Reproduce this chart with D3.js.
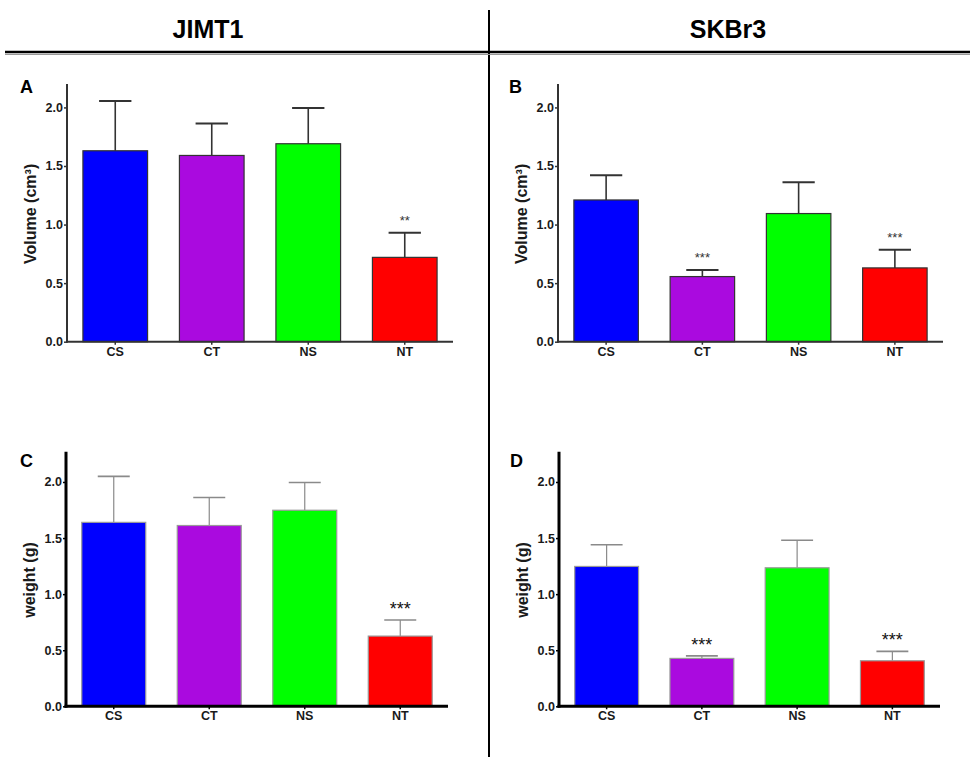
<!DOCTYPE html>
<html>
<head>
  <meta charset="utf-8">
  <title>JIMT1 / SKBr3</title>
  <script src="https://cdn.jsdelivr.net/npm/d3@7"></script>
  <style>
    body { margin: 0; background: #fff; }
    text { font-family: "Liberation Sans", Arial, sans-serif; }
  </style>
</head>
<body>
<div id="chart"></div>
<script>
var groups = ["CS", "CT", "NS", "NT"];
var colors = ["#0000ff", "#aa0adf", "#00ff00", "#ff0000"];
var yTicks = [0, 0.5, 1.0, 1.5, 2.0];

// means and upper error bar ends
var volJimt = [1.63, 1.59, 1.69, 0.72];
var volJimtErr = [2.055, 1.863, 1.995, 0.93];
var volSkbr = [1.21, 0.556, 1.094, 0.63];
var volSkbrErr = [1.42, 0.613, 1.362, 0.785];
var wJimt = [1.64, 1.612, 1.748, 0.626];
var wJimtErr = [2.05, 1.861, 1.995, 0.77];
var wSkbr = [1.247, 0.427, 1.235, 0.406];
var wSkbrErr = [1.44, 0.45, 1.48, 0.49];
var volStars = ["", "", "", "**"];
var volStarsS = ["", "***", "", "***"];
var wStars = ["", "", "", "***"];
var wStarsS = ["", "***", "", "***"];

var W = 970, H = 757;
var svg = d3.select("#chart").append("svg")
    .attr("width", W).attr("height", H);

// header
svg.append("line").attr("x1", 489).attr("x2", 489).attr("y1", 10).attr("y2", H)
    .attr("stroke", "#000").attr("stroke-width", 2);
svg.append("line").attr("x1", 5).attr("x2", W).attr("y1", 52).attr("y2", 52)
    .attr("stroke", "#000").attr("stroke-width", 2.5);
svg.append("line").attr("x1", 5).attr("x2", W).attr("y1", 54.5).attr("y2", 54.5)
    .attr("stroke", "#999").attr("stroke-width", 1);
svg.append("text").attr("x", 208).attr("y", 38).attr("text-anchor", "middle")
    .style("font-family", "'Liberation Sans Narrow', 'Liberation Sans', sans-serif")
    .style("font-weight", "bold").style("font-size", "25px").text("JIMT1");
svg.append("text").attr("x", 728).attr("y", 38).attr("text-anchor", "middle")
    .style("font-family", "'Liberation Sans Narrow', 'Liberation Sans', sans-serif")
    .style("font-weight", "bold").style("font-size", "25px").text("SKBr3");

var panels = [
  {label: "A", lx: 20, ly: 93, x0: 67, x1: 453, yTop: 84, y0: 341.7, max: 2.2,
   vals: volJimt, errs: volJimtErr, stars: volStars, title: "Volume (cm\u00b3)", style: "top"},
  {label: "B", lx: 509, ly: 93, x0: 558, x1: 943, yTop: 84, y0: 341.7, max: 2.2,
   vals: volSkbr, errs: volSkbrErr, stars: volStarsS, title: "Volume (cm\u00b3)", style: "top"},
  {label: "C", lx: 20, ly: 467, x0: 66, x1: 448, yTop: 451.7, y0: 706.3, max: 2.27,
   vals: wJimt, errs: wJimtErr, stars: wStars, title: "weight (g)", style: "bottom"},
  {label: "D", lx: 510, ly: 467, x0: 559, x1: 940, yTop: 451.7, y0: 706.3, max: 2.27,
   vals: wSkbr, errs: wSkbrErr, stars: wStarsS, title: "weight (g)", style: "bottom"}
];

panels.forEach(function(p) {
  var top = p.style == "top";
  var axisCol = top ? "#333" : "#000";
  var axisW = top ? 2 : 3;
  var errCol = top ? "#333" : "#8a8a8a";
  var errW = top ? 1.6 : 1.2;
  var barStroke = top ? "#333" : "#999";

  var x = d3.scaleBand().domain(groups).range([p.x0, p.x1])
      .paddingInner(0.33).paddingOuter(0.165);
  var y = d3.scaleLinear().domain([0, p.max]).range([p.y0, p.yTop]);
  var g = svg.append("g");

  g.append("text").attr("x", p.lx).attr("y", p.ly)
      .style("font-weight", "bold").style("font-size", "18px").text(p.label);

  var data = groups.map(function(k, i) {
    return {k: k, v: p.vals[i], e: p.errs[i], s: p.stars[i], c: colors[i]};
  });

  // error bars
  g.selectAll(".err").data(data).enter().append("line")
      .attr("x1", function(d) { return x(d.k) + x.bandwidth() / 2; })
      .attr("x2", function(d) { return x(d.k) + x.bandwidth() / 2; })
      .attr("y1", function(d) { return y(d.v); })
      .attr("y2", function(d) { return y(d.e); })
      .attr("stroke", errCol).attr("stroke-width", errW);
  g.selectAll(".cap").data(data).enter().append("line")
      .attr("x1", function(d) { return x(d.k) + x.bandwidth() / 4; })
      .attr("x2", function(d) { return x(d.k) + x.bandwidth() * 3 / 4; })
      .attr("y1", function(d) { return y(d.e); })
      .attr("y2", function(d) { return y(d.e); })
      .attr("stroke", errCol).attr("stroke-width", errW + 0.4);

  g.selectAll(".bar").data(data).enter().append("rect")
      .attr("x", function(d) { return x(d.k); })
      .attr("width", x.bandwidth())
      .attr("y", function(d) { return y(d.v); })
      .attr("height", function(d) { return y(0) - y(d.v); })
      .attr("fill", function(d) { return d.c; })
      .attr("stroke", barStroke).attr("stroke-width", 1.2);

  g.selectAll(".star").data(data).enter().append("text")
      .attr("x", function(d) { return x(d.k) + x.bandwidth() / 2; })
      .attr("y", function(d) { return y(d.e) - (top ? 8 : 5); })
      .attr("text-anchor", "middle")
      .style("font-size", top ? "13px" : "18px")
      .attr("fill", top ? "#333" : "#111")
      .text(function(d) { return d.s; });

  // axes
  var ya = g.append("g").attr("transform", "translate(" + p.x0 + ",0)")
      .call(d3.axisLeft(y).tickValues(yTicks).tickFormat(d3.format(".1f"))
        .tickSize(3).tickPadding(1));
  ya.select(".domain").remove();
  ya.selectAll(".tick line").attr("stroke", axisCol).attr("stroke-width", 1.5);
  ya.selectAll("text").style("font-weight", "bold").style("font-size", "12.5px")
      .attr("fill", "#1a1a1a");
  g.append("line").attr("x1", p.x0).attr("x2", p.x0).attr("y1", p.yTop).attr("y2", p.y0 + axisW / 2)
      .attr("stroke", axisCol).attr("stroke-width", axisW);

  var xa = g.append("g").attr("transform", "translate(0," + p.y0 + ")")
      .call(d3.axisBottom(x).tickSize(3).tickPadding(2));
  xa.select(".domain").remove();
  xa.selectAll(".tick line").attr("stroke", axisCol).attr("stroke-width", 1.5);
  xa.selectAll("text").style("font-weight", "bold").style("font-size", "12.5px")
      .attr("fill", "#1a1a1a");
  g.append("line").attr("x1", p.x0 - axisW / 2).attr("x2", p.x1).attr("y1", p.y0).attr("y2", p.y0)
      .attr("stroke", axisCol).attr("stroke-width", axisW);

  g.append("text")
      .attr("transform", "translate(" + (p.x0 - 31) + "," + ((p.yTop + p.y0) / 2 + 1) + ") rotate(-90)")
      .attr("text-anchor", "middle")
      .style("font-weight", "bold").style("font-size", "16px").attr("fill", "#1a1a1a")
      .text(p.title);
});
</script>
</body>
</html>
